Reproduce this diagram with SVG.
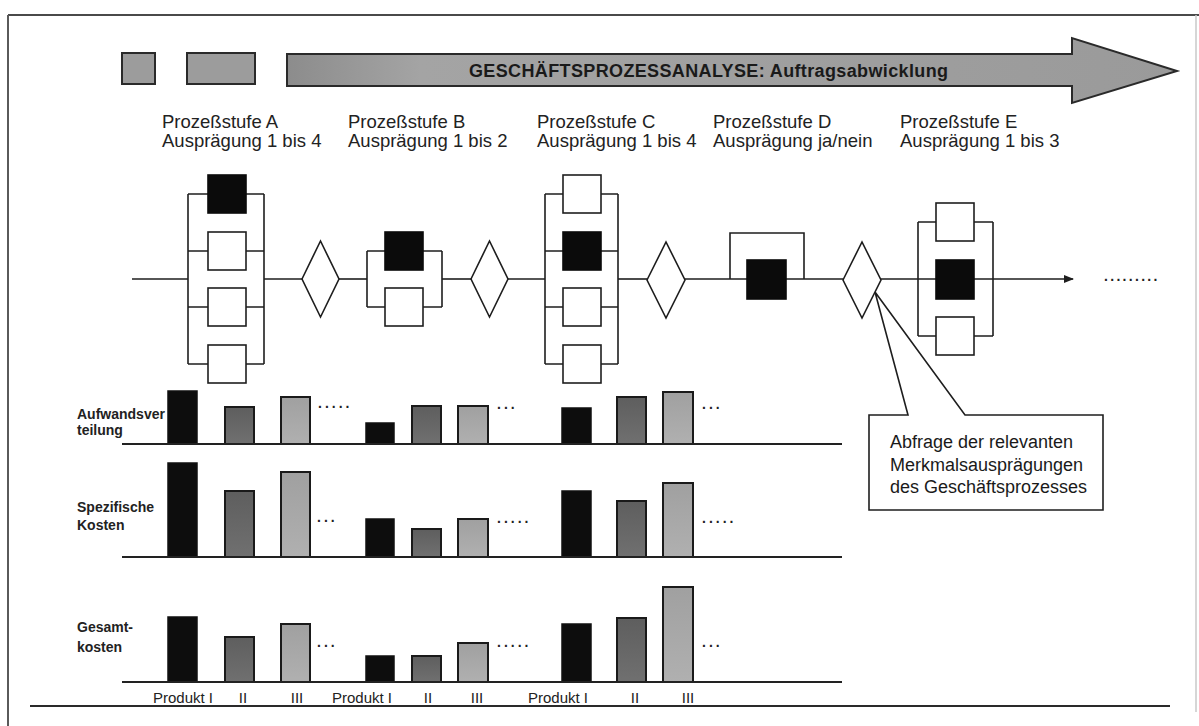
<svg xmlns="http://www.w3.org/2000/svg" width="1199" height="726" viewBox="0 0 1199 726">
  <defs>
    <style>
      .ln { stroke: #1e1e1e; stroke-width: 1.6; fill: none; }
      .box { fill: #ffffff; stroke: #1e1e1e; stroke-width: 1.6; }
      .on { fill: #0b0b0b; stroke: #0b0b0b; }
      .dia { fill: #ffffff; stroke: #1e1e1e; stroke-width: 1.6; }
      .stage { font-family: "Liberation Sans", Arial, sans-serif; font-size: 18.5px; fill: #222; }
      .axis-t { font-family: "Liberation Sans", Arial, sans-serif; font-size: 14px; font-weight: bold; fill: #222; }
      .prod { font-family: "Liberation Sans", Arial, sans-serif; font-size: 15px; fill: #222; }
      .dots { font-family: "Liberation Sans", Arial, sans-serif; font-size: 14px; font-weight: bold; fill: #222; letter-spacing: 3px; }
      .call { font-family: "Liberation Sans", Arial, sans-serif; font-size: 18px; fill: #1a1a1a; }
      .axis { stroke: #222; stroke-width: 2; }
      .bk { fill: #0d0d0d; stroke: #111; stroke-width: 1.5; }
      .bm { fill: url(#gMid); stroke: #1a1a1a; stroke-width: 2; }
      .bl { fill: url(#gLight); stroke: #1a1a1a; stroke-width: 2; }
    </style>
    <linearGradient id="gMid" x1="0" y1="0" x2="0" y2="1">
      <stop offset="0" stop-color="#5e5e5e"/>
      <stop offset="1" stop-color="#707070"/>
    </linearGradient>
    <linearGradient id="gLight" x1="0" y1="0" x2="0" y2="1">
      <stop offset="0" stop-color="#a0a0a0"/>
      <stop offset="1" stop-color="#b0b0b0"/>
    </linearGradient>
    <linearGradient id="gBand" x1="0" y1="0" x2="1" y2="0">
      <stop offset="0" stop-color="#8c8c8c"/>
      <stop offset="0.15" stop-color="#a4a4a4"/>
      <stop offset="1" stop-color="#9a9a9a"/>
    </linearGradient>
    <marker id="tip" markerWidth="10" markerHeight="8" refX="9" refY="4" orient="auto" markerUnits="userSpaceOnUse">
      <path d="M0,0 L10,4 L0,8 Z" fill="#1e1e1e"/>
    </marker>
  </defs>

  <rect x="0" y="0" width="1199" height="726" fill="#ffffff"/>

  <!-- frame -->
  <g id="frame">
    <line x1="8" y1="15" x2="1199" y2="15" stroke="#4a4a4a" stroke-width="2"/>
    <line x1="8" y1="15" x2="8" y2="726" stroke="#5a5a5a" stroke-width="2"/>
    <line x1="1196" y1="15" x2="1196" y2="712" stroke="#c8c8c8" stroke-width="1.5"/>
    <line x1="30" y1="706" x2="1170" y2="706" stroke="#2a2a2a" stroke-width="2"/>
  </g>

  <!-- header band -->
  <g id="header">
    <rect x="122" y="53" width="33" height="31" fill="#9c9c9c" stroke="#2a2a2a" stroke-width="2"/>
    <rect x="187" y="53" width="68" height="31" fill="#9c9c9c" stroke="#2a2a2a" stroke-width="2"/>
    <path d="M287,54 H1072 V38 L1177,71 L1072,103 V86 H287 Z" fill="url(#gBand)" stroke="#2a2a2a" stroke-width="2"/>
    <text x="469" y="77" font-family="'Liberation Sans', Arial, sans-serif" font-size="18px" font-weight="bold" fill="#1a1a1a" textLength="479">GESCHÄFTSPROZESSANALYSE: Auftragsabwicklung</text>
  </g>

  <!-- stage labels -->
  <g id="stage-labels">
    <text class="stage" x="162" y="128">Prozeßstufe A</text>
    <text class="stage" x="162" y="147">Ausprägung 1 bis 4</text>
    <text class="stage" x="348" y="128">Prozeßstufe B</text>
    <text class="stage" x="348" y="147">Ausprägung 1 bis 2</text>
    <text class="stage" x="537" y="128">Prozeßstufe C</text>
    <text class="stage" x="537" y="147">Ausprägung 1 bis 4</text>
    <text class="stage" x="713" y="128">Prozeßstufe D</text>
    <text class="stage" x="713" y="147">Ausprägung ja/nein</text>
    <text class="stage" x="900" y="128">Prozeßstufe E</text>
    <text class="stage" x="900" y="147">Ausprägung 1 bis 3</text>
  </g>

  <!-- process flow connectors -->
  <g id="connectors">
    <line class="ln" x1="132" y1="279" x2="188" y2="279"/>
    <line class="ln" x1="264" y1="279" x2="302" y2="279"/>
    <line class="ln" x1="339" y1="279" x2="367" y2="279"/>
    <line class="ln" x1="442" y1="279" x2="471" y2="279"/>
    <line class="ln" x1="508" y1="279" x2="545" y2="279"/>
    <line class="ln" x1="618" y1="279" x2="647" y2="279"/>
    <line class="ln" x1="685" y1="279" x2="843" y2="279"/>
    <line class="ln" x1="881" y1="279" x2="1073" y2="279" marker-end="url(#tip)"/>
    <text class="dots" x="1104" y="281" style="letter-spacing:2.3px">.........</text>
  </g>

  <!-- stage A: four variants -->
  <g id="stage-a">
    <path class="ln" d="M188,194 V364 M264,194 V364 M188,194 H208 M246,194 H264 M188,251 H208 M246,251 H264 M188,307 H208 M246,307 H264 M188,364 H208 M246,364 H264"/>
    <rect class="box on" x="208" y="175" width="38" height="38"/>
    <rect class="box" x="208" y="232" width="38" height="38"/>
    <rect class="box" x="208" y="288" width="38" height="38"/>
    <rect class="box" x="208" y="345" width="38" height="38"/>
  </g>

  <g id="decision-1">
    <polygon class="dia" points="302,279 320.5,241 339,279 320.5,317"/>
  </g>

  <!-- stage B: two variants -->
  <g id="stage-b">
    <path class="ln" d="M367,251 V307 M442,251 V307 M367,251 H385 M423,251 H442 M367,307 H385 M423,307 H442"/>
    <rect class="box on" x="385" y="232" width="38" height="38"/>
    <rect class="box" x="385" y="288" width="38" height="38"/>
  </g>

  <g id="decision-2">
    <polygon class="dia" points="471,279 489.5,241 508,279 489.5,317"/>
  </g>

  <!-- stage C: four variants -->
  <g id="stage-c">
    <path class="ln" d="M545,194 V364 M618,194 V364 M545,194 H563 M601,194 H618 M545,251 H563 M601,251 H618 M545,307 H563 M601,307 H618 M545,364 H563 M601,364 H618"/>
    <rect class="box" x="563" y="175" width="38" height="38"/>
    <rect class="box on" x="563" y="232" width="38" height="38"/>
    <rect class="box" x="563" y="288" width="38" height="38"/>
    <rect class="box" x="563" y="345" width="38" height="38"/>
  </g>

  <g id="decision-3">
    <polygon class="dia" points="647,280 666,242 685,280 666,318"/>
  </g>

  <!-- stage D: yes/no bypass -->
  <g id="stage-d">
    <path class="ln" d="M730,279 V233 H804 V279"/>
    <rect class="box on" x="747" y="260" width="39" height="39"/>
  </g>

  <g id="decision-4">
    <polygon class="dia" points="843,280 862,242 881,280 862,318"/>
  </g>

  <!-- stage E: three variants -->
  <g id="stage-e">
    <path class="ln" d="M918,222 V336 M993,222 V336 M918,222 H936 M974,222 H993 M918,336 H936 M974,336 H993"/>
    <rect class="box" x="936" y="203" width="38" height="38"/>
    <rect class="box on" x="936" y="260" width="38" height="39"/>
    <rect class="box" x="936" y="317" width="38" height="38"/>
  </g>

  <!-- callout -->
  <g id="callout">
    <path d="M908,415 L875,292 L965,415 H1103 V510 H869 V415 Z" fill="#ffffff" stroke="#1e1e1e" stroke-width="1.6" stroke-linejoin="miter"/>
    <text class="call" x="890" y="448">Abfrage der relevanten</text>
    <text class="call" x="890" y="471">Merkmalsausprägungen</text>
    <text class="call" x="890" y="493">des Geschäftsprozesses</text>
  </g>

  <!-- chart: Aufwandsverteilung -->
  <g id="chart-aufwand">
    <text class="axis-t" x="77" y="419">Aufwandsver</text>
    <text class="axis-t" x="77" y="435">teilung</text>
    <rect class="bk" x="168" y="391" width="29" height="53"/>
    <rect class="bm" x="225" y="407" width="29" height="37"/>
    <rect class="bl" x="281" y="397" width="29" height="47"/>
    <text class="dots" x="318" y="408">.....</text>
    <rect class="bk" x="366" y="423" width="28" height="21"/>
    <rect class="bm" x="412" y="406" width="29" height="38"/>
    <rect class="bl" x="458" y="406" width="30" height="38"/>
    <text class="dots" x="497" y="409">...</text>
    <rect class="bk" x="562" y="408" width="29" height="36"/>
    <rect class="bm" x="617" y="397" width="29" height="47"/>
    <rect class="bl" x="663" y="392" width="30" height="52"/>
    <text class="dots" x="702" y="409">...</text>
    <line class="axis" x1="122" y1="444" x2="842" y2="444"/>
  </g>

  <!-- chart: spezifische Kosten -->
  <g id="chart-spezifisch">
    <text class="axis-t" x="77" y="512">Spezifische</text>
    <text class="axis-t" x="77" y="530">Kosten</text>
    <rect class="bk" x="168" y="463" width="29" height="94"/>
    <rect class="bm" x="225" y="491" width="29" height="66"/>
    <rect class="bl" x="281" y="472" width="29" height="85"/>
    <text class="dots" x="317" y="522">...</text>
    <rect class="bk" x="366" y="519" width="28" height="38"/>
    <rect class="bm" x="412" y="529" width="29" height="28"/>
    <rect class="bl" x="458" y="519" width="30" height="38"/>
    <text class="dots" x="497" y="523">.....</text>
    <rect class="bk" x="562" y="491" width="29" height="66"/>
    <rect class="bm" x="617" y="501" width="29" height="56"/>
    <rect class="bl" x="663" y="483" width="30" height="74"/>
    <text class="dots" x="702" y="523">.....</text>
    <line class="axis" x1="122" y1="557" x2="842" y2="557"/>
  </g>

  <!-- chart: Gesamtkosten -->
  <g id="chart-gesamt">
    <text class="axis-t" x="77" y="632">Gesamt-</text>
    <text class="axis-t" x="77" y="652">kosten</text>
    <rect class="bk" x="168" y="617" width="29" height="65"/>
    <rect class="bm" x="225" y="637" width="29" height="45"/>
    <rect class="bl" x="281" y="624" width="29" height="58"/>
    <text class="dots" x="317" y="647">...</text>
    <rect class="bk" x="366" y="656" width="28" height="26"/>
    <rect class="bm" x="412" y="656" width="29" height="26"/>
    <rect class="bl" x="458" y="643" width="30" height="39"/>
    <text class="dots" x="497" y="647">.....</text>
    <rect class="bk" x="562" y="624" width="29" height="58"/>
    <rect class="bm" x="617" y="618" width="29" height="64"/>
    <rect class="bl" x="663" y="587" width="30" height="95"/>
    <text class="dots" x="702" y="647">...</text>
    <line class="axis" x1="122" y1="682" x2="842" y2="682"/>
  </g>

  <!-- product labels -->
  <g id="product-labels">
    <text class="prod" x="153" y="703">Produkt I</text>
    <text class="prod" x="243" y="703" text-anchor="middle">II</text>
    <text class="prod" x="297" y="703" text-anchor="middle">III</text>
    <text class="prod" x="332" y="703">Produkt I</text>
    <text class="prod" x="428" y="703" text-anchor="middle">II</text>
    <text class="prod" x="477" y="703" text-anchor="middle">III</text>
    <text class="prod" x="528" y="703">Produkt I</text>
    <text class="prod" x="635" y="703" text-anchor="middle">II</text>
    <text class="prod" x="688" y="703" text-anchor="middle">III</text>
  </g>
</svg>
